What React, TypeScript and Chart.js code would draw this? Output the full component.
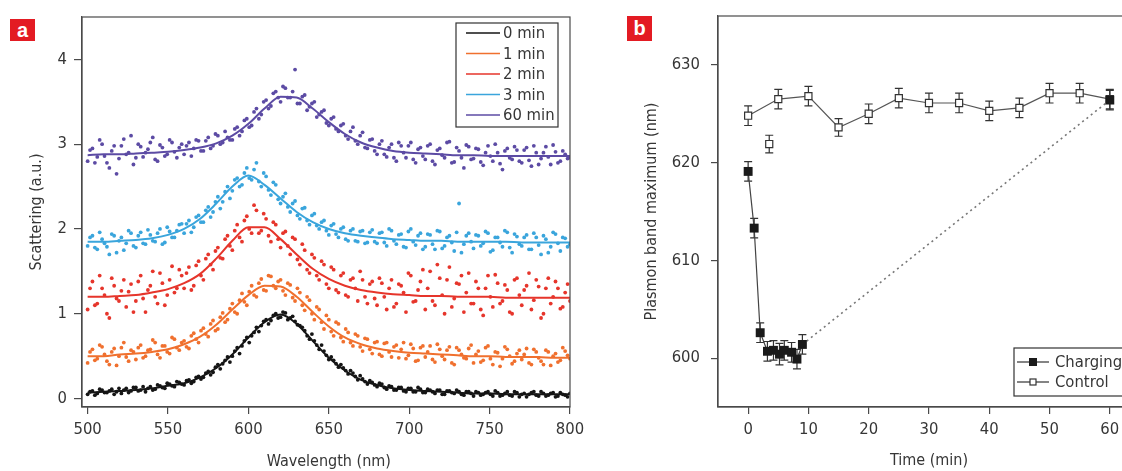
import React, { useEffect, useRef } from 'react';
import { Chart, registerables } from 'chart.js';

Chart.register(...registerables);

const FONT = "'DejaVu Sans Condensed', 'Liberation Sans Narrow', 'Arial Narrow', sans-serif";
const TEXT = '#363636';
const AXIS = '#4a4a4a';

// ---------- Panel a: scattering spectra ----------
const WAVELENGTHS = [
  500, 503, 506, 509, 512, 515, 518, 521, 524, 527,
  530, 533, 536, 539, 542, 545, 548, 551, 554, 557,
  560, 563, 566, 569, 572, 575, 578, 581, 584, 587,
  590, 593, 596, 599, 602, 605, 608, 611, 614, 617,
  620, 623, 626, 629, 632, 635, 638, 641, 644, 647,
  650, 653, 656, 659, 662, 665, 668, 671, 674, 677,
  680, 683, 686, 689, 692, 695, 698, 701, 704, 707,
  710, 713, 716, 719, 722, 725, 728, 731, 734, 737,
  740, 743, 746, 749, 752, 755, 758, 761, 764, 767,
  770, 773, 776, 779, 782, 785, 788, 791, 794, 797,
  800,
];
const WAVELENGTHS_B = [
  501.5, 504.5, 507.5, 510.5, 513.5, 516.5, 519.5, 522.5, 525.5, 528.5,
  531.5, 534.5, 537.5, 540.5, 543.5, 546.5, 549.5, 552.5, 555.5, 558.5,
  561.5, 564.5, 567.5, 570.5, 573.5, 576.5, 579.5, 582.5, 585.5, 588.5,
  591.5, 594.5, 597.5, 600.5, 603.5, 606.5, 609.5, 612.5, 615.5, 618.5,
  621.5, 624.5, 627.5, 630.5, 633.5, 636.5, 639.5, 642.5, 645.5, 648.5,
  651.5, 654.5, 657.5, 660.5, 663.5, 666.5, 669.5, 672.5, 675.5, 678.5,
  681.5, 684.5, 687.5, 690.5, 693.5, 696.5, 699.5, 702.5, 705.5, 708.5,
  711.5, 714.5, 717.5, 720.5, 723.5, 726.5, 729.5, 732.5, 735.5, 738.5,
  741.5, 744.5, 747.5, 750.5, 753.5, 756.5, 759.5, 762.5, 765.5, 768.5,
  771.5, 774.5, 777.5, 780.5, 783.5, 786.5, 789.5, 792.5, 795.5, 798.5,
];

const SCAT_0MIN = [
  0.05, 0.09, 0.06, 0.10, 0.07, 0.11, 0.08, 0.06, 0.12, 0.09,
  0.13, 0.10, 0.08, 0.14, 0.11, 0.15, 0.12, 0.17, 0.14, 0.19,
  0.16, 0.22, 0.20, 0.26, 0.25, 0.32, 0.31, 0.40, 0.41, 0.49,
  0.50, 0.60, 0.62, 0.72, 0.74, 0.84, 0.86, 0.93, 0.92, 1.00,
  0.96, 1.01, 0.95, 0.91, 0.86, 0.80, 0.70, 0.68, 0.58, 0.56,
  0.46, 0.45, 0.37, 0.36, 0.29, 0.30, 0.22, 0.23, 0.17, 0.19,
  0.14, 0.17, 0.11, 0.14, 0.10, 0.13, 0.08, 0.12, 0.08, 0.11,
  0.07, 0.10, 0.06, 0.10, 0.05, 0.09, 0.06, 0.08, 0.04, 0.08,
  0.03, 0.07, 0.05, 0.08, 0.03, 0.07, 0.04, 0.08, 0.03, 0.07,
  0.05, 0.02, 0.07, 0.04, 0.08, 0.03, 0.06, 0.02, 0.07, 0.04,
  0.06,
];
const SCAT_0MIN_B = [
  0.08, 0.04, 0.11, 0.07, 0.09, 0.05, 0.12, 0.10, 0.07, 0.13,
  0.09, 0.14, 0.12, 0.10, 0.16, 0.13, 0.18, 0.15, 0.20, 0.17,
  0.21, 0.18, 0.25, 0.23, 0.30, 0.28, 0.37, 0.35, 0.45, 0.43,
  0.56, 0.53, 0.68, 0.66, 0.78, 0.79, 0.91, 0.88, 0.98, 0.95,
  1.02, 0.93, 0.97, 0.87, 0.84, 0.74, 0.76, 0.63, 0.63, 0.51,
  0.49, 0.41, 0.40, 0.33, 0.33, 0.26, 0.27, 0.20, 0.21, 0.16,
  0.18, 0.13, 0.15, 0.10, 0.13, 0.09, 0.12, 0.08, 0.13, 0.07,
  0.11, 0.08, 0.10, 0.05, 0.09, 0.07, 0.10, 0.05, 0.08, 0.06,
  0.08, 0.04, 0.07, 0.05, 0.09, 0.03, 0.06, 0.04, 0.08, 0.02,
  0.06, 0.05, 0.08, 0.03, 0.06, 0.04, 0.07, 0.03, 0.05, 0.02,
];
const SCAT_1MIN = [
  0.42, 0.58, 0.47, 0.61, 0.44, 0.55, 0.39, 0.60, 0.49, 0.57,
  0.46, 0.63, 0.50, 0.58, 0.66, 0.48, 0.62, 0.53, 0.70, 0.57,
  0.68, 0.59, 0.77, 0.66, 0.83, 0.73, 0.92, 0.82, 1.01, 0.93,
  1.12, 1.00, 1.24, 1.10, 1.33, 1.20, 1.41, 1.27, 1.44, 1.30,
  1.40, 1.22, 1.34, 1.15, 1.25, 1.04, 1.16, 0.93, 1.05, 0.82,
  0.93, 0.74, 0.88, 0.67, 0.78, 0.62, 0.74, 0.56, 0.70, 0.53,
  0.67, 0.50, 0.66, 0.49, 0.63, 0.58, 0.47, 0.64, 0.44, 0.60,
  0.49, 0.62, 0.43, 0.58, 0.46, 0.61, 0.40, 0.57, 0.48, 0.59,
  0.42, 0.56, 0.45, 0.62, 0.40, 0.54, 0.47, 0.58, 0.41, 0.53,
  0.46, 0.59, 0.40, 0.55, 0.44, 0.57, 0.39, 0.53, 0.45, 0.56,
  0.47,
];
const SCAT_1MIN_B = [
  0.55, 0.45, 0.63, 0.52, 0.40, 0.59, 0.50, 0.66, 0.44, 0.55,
  0.60, 0.48, 0.57, 0.69, 0.52, 0.62, 0.55, 0.72, 0.60, 0.66,
  0.61, 0.74, 0.70, 0.80, 0.76, 0.88, 0.80, 0.96, 0.90, 1.06,
  1.02, 1.16, 1.14, 1.26, 1.22, 1.36, 1.28, 1.45, 1.33, 1.38,
  1.27, 1.36, 1.19, 1.30, 1.10, 1.20, 1.00, 1.08, 0.90, 0.98,
  0.79, 0.90, 0.72, 0.82, 0.66, 0.76, 0.61, 0.71, 0.58, 0.66,
  0.52, 0.65, 0.55, 0.61, 0.48, 0.66, 0.51, 0.59, 0.45, 0.62,
  0.55, 0.46, 0.64, 0.50, 0.57, 0.42, 0.60, 0.52, 0.47, 0.63,
  0.52, 0.43, 0.60, 0.47, 0.55, 0.38, 0.61, 0.50, 0.44, 0.57,
  0.52, 0.42, 0.58, 0.48, 0.40, 0.55, 0.50, 0.43, 0.60, 0.51,
];
const SCAT_2MIN = [
  1.05, 1.38, 1.12, 1.30, 1.00, 1.42, 1.18, 1.27, 1.08, 1.35,
  1.15, 1.45, 1.02, 1.33, 1.20, 1.48, 1.10, 1.40, 1.25, 1.52,
  1.30, 1.55, 1.33, 1.62, 1.40, 1.70, 1.52, 1.78, 1.65, 1.92,
  1.75, 2.05, 1.85, 2.15, 1.95, 2.22, 1.98, 2.12, 1.85, 2.05,
  1.78, 1.97, 1.70, 1.88, 1.58, 1.75, 1.48, 1.66, 1.40, 1.58,
  1.30, 1.52, 1.25, 1.48, 1.20, 1.42, 1.15, 1.40, 1.12, 1.38,
  1.10, 1.36, 1.05, 1.40, 1.12, 1.33, 1.02, 1.45, 1.15, 1.38,
  1.05, 1.50, 1.10, 1.42, 1.00, 1.55, 1.18, 1.35, 1.02, 1.48,
  1.12, 1.30, 0.98, 1.45, 1.08, 1.36, 1.15, 1.28, 1.00, 1.42,
  1.10, 1.33, 1.05, 1.40, 0.95, 1.30, 1.12, 1.38, 1.06, 1.25,
  1.15,
];
const SCAT_2MIN_B = [
  1.30, 1.10, 1.45, 1.22, 0.95, 1.33, 1.15, 1.40, 1.26, 1.02,
  1.38, 1.18, 1.28, 1.50, 1.12, 1.36, 1.22, 1.56, 1.30, 1.45,
  1.48, 1.28, 1.57, 1.45, 1.65, 1.58, 1.74, 1.66, 1.88, 1.80,
  1.98, 1.90, 2.10, 2.00, 2.28, 1.95, 2.18, 1.92, 2.08, 1.88,
  1.95, 1.80, 1.90, 1.64, 1.82, 1.52, 1.70, 1.45, 1.62, 1.35,
  1.55, 1.28, 1.45, 1.22, 1.40, 1.30, 1.50, 1.20, 1.35, 1.18,
  1.42, 1.20, 1.30, 1.08, 1.35, 1.25, 1.48, 1.14, 1.28, 1.52,
  1.30, 1.15, 1.58, 1.22, 1.40, 1.08, 1.36, 1.45, 1.25, 1.12,
  1.38, 1.05, 1.30, 1.20, 1.46, 1.12, 1.34, 1.02, 1.40, 1.22,
  1.28, 1.48, 1.16, 1.32, 1.00, 1.42, 1.20, 1.30, 1.08, 1.35,
];
const SCAT_3MIN = [
  1.80, 1.92, 1.76, 1.88, 1.79, 1.94, 1.72, 1.90, 1.83, 1.95,
  1.78, 1.96, 1.82, 1.93, 1.85, 2.00, 1.84, 1.97, 1.90, 2.05,
  1.95, 2.10, 2.02, 2.16, 2.08, 2.26, 2.20, 2.38, 2.32, 2.50,
  2.45, 2.60, 2.52, 2.72, 2.58, 2.78, 2.50, 2.62, 2.40, 2.52,
  2.30, 2.42, 2.20, 2.33, 2.12, 2.25, 2.05, 2.18, 2.00, 2.10,
  1.93, 2.06, 1.90, 2.02, 1.86, 2.00, 1.85, 1.98, 1.84, 1.99,
  1.83, 1.96, 1.80, 1.98, 1.82, 1.94, 1.78, 2.00, 1.81, 1.95,
  1.79, 1.93, 1.76, 1.97, 1.80, 1.92, 1.74, 2.30, 1.82, 1.95,
  1.77, 1.92, 1.83, 1.95, 1.75, 1.90, 1.79, 1.96, 1.72, 1.91,
  1.80, 1.93, 1.76, 1.90, 1.70, 1.88, 1.79, 1.94, 1.74, 1.89,
  1.82,
];
const SCAT_3MIN_B = [
  1.90, 1.78, 1.96, 1.83, 1.70, 1.92, 1.86, 1.75, 1.98, 1.80,
  1.92, 1.83, 1.99, 1.86, 1.95, 1.82, 2.02, 1.90, 1.98, 2.06,
  2.06, 1.96, 2.14, 2.08, 2.22, 2.14, 2.32, 2.24, 2.44, 2.36,
  2.58, 2.50, 2.66, 2.60, 2.70, 2.56, 2.66, 2.46, 2.55, 2.35,
  2.38, 2.26, 2.30, 2.16, 2.24, 2.10, 2.16, 2.04, 2.08, 1.98,
  2.04, 1.94, 2.00, 1.88, 1.98, 1.86, 1.97, 1.83, 1.96, 1.85,
  1.95, 1.84, 2.00, 1.86, 1.93, 1.79, 1.97, 1.85, 1.92, 1.76,
  1.94, 1.82, 1.98, 1.77, 1.90, 1.84, 1.96, 1.72, 1.92, 1.85,
  1.93, 1.80, 1.97, 1.73, 1.90, 1.84, 1.98, 1.78, 1.94, 1.82,
  1.90, 1.76, 1.95, 1.81, 1.92, 1.72, 1.96, 1.83, 1.90, 1.79,
];
const SCAT_60MIN = [
  2.80, 2.95, 2.85, 3.00, 2.78, 2.92, 2.65, 2.98, 2.88, 3.10,
  2.84, 2.97, 2.90, 3.02, 2.82, 2.99, 2.86, 3.05, 2.91, 2.96,
  2.88, 3.02, 2.95, 3.04, 2.92, 3.08, 2.98, 3.10, 3.02, 3.08,
  3.05, 3.20, 3.15, 3.30, 3.22, 3.42, 3.35, 3.52, 3.45, 3.62,
  3.50, 3.66, 3.55, 3.88, 3.48, 3.58, 3.44, 3.50, 3.35, 3.40,
  3.22, 3.32, 3.15, 3.24, 3.06, 3.20, 3.00, 3.14, 2.95, 3.06,
  2.88, 3.04, 2.85, 3.00, 2.80, 2.98, 2.84, 3.02, 2.78, 2.96,
  2.82, 3.00, 2.76, 2.95, 2.84, 3.03, 2.79, 2.92, 2.72, 2.97,
  2.83, 2.94, 2.75, 2.98, 2.80, 2.90, 2.70, 2.95, 2.82, 2.93,
  2.78, 2.96, 2.74, 2.90, 2.83, 2.97, 2.76, 2.91, 2.80, 2.88,
  2.84,
];
const SCAT_60MIN_B = [
  2.93, 2.78, 3.05, 2.86, 2.72, 2.98, 2.83, 3.06, 2.90, 2.76,
  3.00, 2.85, 2.94, 3.08, 2.80, 2.96, 2.88, 3.02, 2.84, 3.00,
  2.98, 2.86, 3.05, 2.92, 3.04, 2.95, 3.12, 3.00, 3.15, 3.05,
  3.18, 3.10, 3.28, 3.20, 3.38, 3.30, 3.50, 3.42, 3.60, 3.55,
  3.68, 3.55, 3.62, 3.48, 3.56, 3.40, 3.48, 3.32, 3.38, 3.25,
  3.30, 3.18, 3.22, 3.10, 3.15, 3.04, 3.10, 2.96, 3.05, 2.92,
  3.00, 2.88, 2.96, 2.84, 3.02, 2.90, 2.98, 2.82, 2.94, 2.86,
  2.98, 2.80, 2.93, 2.87, 3.02, 2.78, 2.96, 2.84, 2.99, 2.82,
  2.95, 2.79, 2.90, 2.86, 3.00, 2.77, 2.92, 2.84, 2.97, 2.80,
  2.93, 2.81, 2.98, 2.76, 2.90, 2.85, 2.99, 2.78, 2.92, 2.83,
];

const FIT_WAVELENGTHS = [
  500, 510, 520, 530, 540, 550, 560, 570, 580, 590,
  600, 610, 620, 630, 640, 650, 660, 670, 680, 690,
  700, 710, 720, 730, 740, 750, 760, 770, 780, 790,
  800,
];
const FIT_0MIN = [
  0.07, 0.08, 0.09, 0.10, 0.12, 0.15, 0.18, 0.25, 0.36, 0.52,
  0.72, 0.90, 0.99, 0.88, 0.68, 0.48, 0.33, 0.22, 0.16, 0.12,
  0.10, 0.09, 0.08, 0.07, 0.06, 0.06, 0.05, 0.05, 0.05, 0.05,
  0.05,
];
const FIT_1MIN = [
  0.50, 0.50, 0.52, 0.53, 0.55, 0.58, 0.64, 0.73, 0.87, 1.05,
  1.22, 1.33, 1.32, 1.20, 1.02, 0.85, 0.72, 0.64, 0.59, 0.56,
  0.54, 0.53, 0.52, 0.51, 0.50, 0.50, 0.49, 0.49, 0.49, 0.48,
  0.48,
];
const FIT_2MIN = [
  1.20, 1.20, 1.21, 1.22, 1.25, 1.29, 1.36, 1.47, 1.65, 1.86,
  2.02, 2.02, 1.88, 1.70, 1.53, 1.41, 1.33, 1.28, 1.25, 1.23,
  1.22, 1.21, 1.21, 1.20, 1.20, 1.20, 1.19, 1.19, 1.19, 1.19,
  1.19,
];
const FIT_3MIN = [
  1.85, 1.85, 1.86, 1.87, 1.89, 1.93, 2.00, 2.12, 2.30, 2.50,
  2.63, 2.52, 2.36, 2.20, 2.08, 2.00, 1.95, 1.92, 1.90, 1.88,
  1.87, 1.86, 1.86, 1.85, 1.85, 1.85, 1.85, 1.84, 1.84, 1.84,
  1.84,
];
const FIT_60MIN = [
  2.87, 2.88, 2.88, 2.89, 2.90, 2.91, 2.93, 2.96, 3.01, 3.10,
  3.24, 3.42, 3.56, 3.55, 3.42, 3.26, 3.12, 3.02, 2.96, 2.92,
  2.90, 2.89, 2.88, 2.87, 2.87, 2.86, 2.86, 2.86, 2.86, 2.86,
  2.86,
];

const SERIES_LABELS = ['0 min', '1 min', '2 min', '3 min', '60 min'];
const SERIES_COLORS = ['#151515', '#f0702e', '#e6352b', '#3aa5dc', '#5c4ba4'];
const SCATTER_SERIES = [SCAT_0MIN, SCAT_1MIN, SCAT_2MIN, SCAT_3MIN, SCAT_60MIN];
const SCATTER_SERIES_B = [SCAT_0MIN_B, SCAT_1MIN_B, SCAT_2MIN_B, SCAT_3MIN_B, SCAT_60MIN_B];
const FIT_SERIES = [FIT_0MIN, FIT_1MIN, FIT_2MIN, FIT_3MIN, FIT_60MIN];
const WAVE_TICKS = [500, 550, 600, 650, 700, 750, 800];
const SCATTER_TICKS = [0, 1, 2, 3, 4];

// ---------- Panel b: plasmon band maximum ----------
const CHARGING_TIME = [0, 1, 2, 3.2, 4.2, 5.2, 6, 7.2, 8.1, 9, 60];
const CHARGING = [619.1, 613.3, 602.6, 600.7, 600.8, 600.4, 600.8, 600.6, 599.9, 601.4, 626.4];
const CHARGING_ERR = [1.0, 1.0, 1.0, 1.0, 1.0, 1.1, 1.0, 1.0, 1.0, 1.0, 1.0];
const CONTROL_TIME = [0, 5, 10, 15, 20, 25, 30, 35, 40, 45, 50, 55, 60];
const CONTROL = [624.8, 626.5, 626.8, 623.6, 625.0, 626.6, 626.1, 626.1, 625.3, 625.6, 627.1, 627.1, 626.5];
const CONTROL_ERR = [1.0, 1.0, 1.0, 0.9, 1.0, 1.0, 1.0, 1.0, 1.0, 1.0, 1.0, 1.0, 1.0];
const CONTROL_EXTRA_TIME = [3.5];
const CONTROL_EXTRA = [621.9];
const CONTROL_EXTRA_ERR = [0.9];
const LEGEND_B = ['Charging', 'Control'];
const TIME_TICKS = [0, 10, 20, 30, 40, 50, 60];
const BAND_TICKS = [600, 610, 620, 630];

const axisTitles = (xText: string, xCenter: number, xY: number, yText: string, yX: number) => ({
  id: 'axisTitles',
  afterDraw(chart: any) {
    const { ctx, chartArea, scales } = chart;
    ctx.save();
    ctx.fillStyle = TEXT;
    ctx.font = `16px ${FONT}`;
    ctx.textAlign = 'center';
    ctx.textBaseline = 'middle';
    ctx.fillText(xText, scales.x.getPixelForValue(xCenter), xY);
    ctx.translate(yX, (chartArea.top + chartArea.bottom) / 2);
    ctx.rotate(-Math.PI / 2);
    ctx.fillText(yText, 0, 0);
    ctx.restore();
  },
});

const framePlugin = {
  id: 'frame',
  afterDraw(chart: any) {
    const { ctx, chartArea } = chart;
    ctx.save();
    ctx.strokeStyle = AXIS;
    ctx.lineWidth = 1.2;
    ctx.strokeRect(chartArea.left, chartArea.top, chartArea.right - chartArea.left, chartArea.bottom - chartArea.top);
    ctx.restore();
  },
};

const legendA = {
  id: 'legendA',
  afterDraw(chart: any) {
    const { ctx } = chart;
    ctx.save();
    ctx.fillStyle = '#fff';
    ctx.fillRect(456, 23, 102, 104);
    ctx.strokeStyle = '#333';
    ctx.lineWidth = 1.2;
    ctx.strokeRect(456, 23, 102, 104);
    ctx.font = `16.5px ${FONT}`;
    ctx.textBaseline = 'middle';
    ctx.textAlign = 'left';
    SERIES_LABELS.forEach((lab, i) => {
      const y = 33 + i * 20.5;
      ctx.strokeStyle = SERIES_COLORS[i];
      ctx.lineWidth = 1.6;
      ctx.beginPath();
      ctx.moveTo(466, y);
      ctx.lineTo(500, y);
      ctx.stroke();
      ctx.fillStyle = TEXT;
      ctx.fillText(lab, 503, y + 1);
    });
    ctx.restore();
  },
};

const errorBars = {
  id: 'errorBars',
  beforeDatasetsDraw(chart: any) {
    const { ctx } = chart;
    const ys = chart.scales.y;
    const sets: [number, number[], number[]][] = [
      [0, CHARGING, CHARGING_ERR],
      [1, CONTROL, CONTROL_ERR],
      [2, CONTROL_EXTRA, CONTROL_EXTRA_ERR],
    ];
    ctx.save();
    ctx.strokeStyle = '#333';
    ctx.lineWidth = 1.2;
    sets.forEach(([idx, vals, errs]) => {
      const meta = chart.getDatasetMeta(idx);
      meta.data.forEach((pt: any, j: number) => {
        const y1 = ys.getPixelForValue(vals[j] + errs[j]);
        const y2 = ys.getPixelForValue(vals[j] - errs[j]);
        ctx.beginPath();
        ctx.moveTo(pt.x, y1);
        ctx.lineTo(pt.x, y2);
        ctx.moveTo(pt.x - 4, y1);
        ctx.lineTo(pt.x + 4, y1);
        ctx.moveTo(pt.x - 4, y2);
        ctx.lineTo(pt.x + 4, y2);
        ctx.stroke();
      });
    });
    ctx.restore();
  },
};

const legendB = {
  id: 'legendB',
  afterDraw(chart: any) {
    const { ctx } = chart;
    ctx.save();
    ctx.fillStyle = '#fff';
    ctx.fillRect(414, 348, 160, 48);
    ctx.strokeStyle = '#333';
    ctx.lineWidth = 1.2;
    ctx.strokeRect(414, 348, 160, 48);
    ctx.font = `16.5px ${FONT}`;
    ctx.textBaseline = 'middle';
    ctx.textAlign = 'left';
    LEGEND_B.forEach((lab, i) => {
      const y = 362 + i * 20;
      ctx.strokeStyle = '#333';
      ctx.lineWidth = 1.2;
      ctx.beginPath();
      ctx.moveTo(417, y);
      ctx.lineTo(449, y);
      ctx.stroke();
      if (i === 0) {
        ctx.fillStyle = '#1a1a1a';
        ctx.fillRect(429, y - 4, 8, 8);
      } else {
        ctx.fillStyle = '#fff';
        ctx.fillRect(430, y - 3, 6, 6);
        ctx.strokeRect(430, y - 3, 6, 6);
      }
      ctx.fillStyle = TEXT;
      ctx.fillText(lab, 455, y + 1);
    });
    ctx.restore();
  },
};

const tickFont = { family: FONT, size: 16.5 };
const noPad = (s: any) => {
  s.paddingTop = 0;
  s.paddingBottom = 0;
  s.paddingLeft = 0;
  s.paddingRight = 0;
};

export default function App() {
  const aRef = useRef<HTMLCanvasElement>(null);
  const bRef = useRef<HTMLCanvasElement>(null);

  useEffect(() => {
    const datasetsA: any[] = [];
    FIT_SERIES.forEach((fit, i) => {
      datasetsA.push({
        label: SERIES_LABELS[i] + ' fit',
        data: FIT_WAVELENGTHS.map((x, j) => ({ x, y: fit[j] })),
        showLine: true,
        borderColor: SERIES_COLORS[i],
        borderWidth: 2,
        pointRadius: 0,
        cubicInterpolationMode: 'monotone',
        order: 0,
      });
    });
    const addScatter = (xs: number[], series: number[][]) => {
      series.forEach((s, i) => {
        datasetsA.push({
          label: SERIES_LABELS[i],
          data: xs.map((x, j) => ({ x, y: s[j] })),
          showLine: false,
          pointRadius: 1.9,
          pointBorderWidth: 0,
          pointBackgroundColor: SERIES_COLORS[i],
          backgroundColor: SERIES_COLORS[i],
          order: 1,
        });
      });
    };
    addScatter(WAVELENGTHS, SCATTER_SERIES);
    addScatter(WAVELENGTHS_B, SCATTER_SERIES_B);

    const chartA = new Chart(aRef.current as HTMLCanvasElement, {
      type: 'scatter',
      data: { datasets: datasetsA },
      options: {
        responsive: false,
        animation: false,
        events: [],
        devicePixelRatio: 1,
        layout: { padding: { left: 0, right: 30, top: 17, bottom: 0 } },
        plugins: { legend: { display: false }, tooltip: { enabled: false } },
        scales: {
          x: {
            type: 'linear',
            min: 496.5,
            max: 800,
            afterBuildTicks: (s: any) => { s.ticks = WAVE_TICKS.map((v) => ({ value: v })); },
            afterFit: (s: any) => { s.height = 64; noPad(s); },
            grid: { drawOnChartArea: false, drawTicks: true, tickLength: 7, color: AXIS, lineWidth: 1.2 },
            border: { display: true, color: AXIS, width: 1.2 },
            ticks: { font: tickFont, color: TEXT, padding: 6, maxRotation: 0 },
          },
          y: {
            type: 'linear',
            min: -0.1,
            max: 4.5,
            afterBuildTicks: (s: any) => { s.ticks = SCATTER_TICKS.map((v) => ({ value: v })); },
            afterFit: (s: any) => { s.width = 82; noPad(s); },
            grid: { drawOnChartArea: false, drawTicks: true, tickLength: 8, color: AXIS, lineWidth: 1.2 },
            border: { display: true, color: AXIS, width: 1.2 },
            ticks: { font: tickFont, color: TEXT, padding: 7 },
          },
        },
      } as any,
      plugins: [framePlugin, legendA, axisTitles('Wavelength (nm)', 650, 462, 'Scattering (a.u.)', 37)],
    });

    const lastSeg = CHARGING.length - 1;
    const chartB = new Chart(bRef.current as HTMLCanvasElement, {
      type: 'scatter',
      data: {
        datasets: [
          {
            label: LEGEND_B[0],
            data: CHARGING_TIME.map((x, j) => ({ x, y: CHARGING[j] })),
            showLine: true,
            borderColor: '#444',
            borderWidth: 1.2,
            pointStyle: 'rect',
            pointRadius: 6.3,
            pointBackgroundColor: '#1a1a1a',
            pointBorderColor: '#1a1a1a',
            pointBorderWidth: 0,
            segment: {
              borderDash: (c: any) => (c.p1DataIndex === lastSeg ? [2, 3.5] : undefined),
              borderColor: (c: any) => (c.p1DataIndex === lastSeg ? '#777' : undefined),
              borderWidth: (c: any) => (c.p1DataIndex === lastSeg ? 1.6 : undefined),
            },
            order: 0,
          },
          {
            label: LEGEND_B[1],
            data: CONTROL_TIME.map((x, j) => ({ x, y: CONTROL[j] })),
            showLine: true,
            borderColor: '#555',
            borderWidth: 1.2,
            pointStyle: 'rect',
            pointRadius: 5,
            pointBackgroundColor: '#fff',
            pointBorderColor: '#333',
            pointBorderWidth: 1.2,
            order: 1,
          },
          {
            label: LEGEND_B[1] + ' extra',
            data: CONTROL_EXTRA_TIME.map((x, j) => ({ x, y: CONTROL_EXTRA[j] })),
            showLine: false,
            pointStyle: 'rect',
            pointRadius: 5,
            pointBackgroundColor: '#fff',
            pointBorderColor: '#333',
            pointBorderWidth: 1.2,
            order: 1,
          },
        ],
      },
      options: {
        responsive: false,
        animation: false,
        events: [],
        devicePixelRatio: 1,
        layout: { padding: { left: 0, right: 8, top: 16, bottom: 0 } },
        plugins: { legend: { display: false }, tooltip: { enabled: false } },
        scales: {
          x: {
            type: 'linear',
            min: -5,
            max: 67,
            afterBuildTicks: (s: any) => { s.ticks = TIME_TICKS.map((v) => ({ value: v })); },
            afterFit: (s: any) => { s.height = 64; noPad(s); },
            grid: { drawOnChartArea: false, drawTicks: true, tickLength: 7, color: AXIS, lineWidth: 1.2 },
            border: { display: true, color: AXIS, width: 1.2 },
            ticks: { font: tickFont, color: TEXT, padding: 6, maxRotation: 0 },
          },
          y: {
            type: 'linear',
            min: 595,
            max: 635,
            afterBuildTicks: (s: any) => { s.ticks = BAND_TICKS.map((v) => ({ value: v })); },
            afterFit: (s: any) => { s.width = 118; noPad(s); },
            grid: { drawOnChartArea: false, drawTicks: true, tickLength: 7, color: AXIS, lineWidth: 1.2 },
            border: { display: true, color: AXIS, width: 1.2 },
            ticks: { font: tickFont, color: TEXT, padding: 11 },
          },
        },
      } as any,
      plugins: [errorBars, framePlugin, legendB, axisTitles('Time (min)', 30, 461, 'Plasmon band maximum (nm)', 52)],
    });

    return () => {
      chartA.destroy();
      chartB.destroy();
    };
  }, []);

  const badge = (left: number, top: number, h: number): React.CSSProperties => ({
    position: 'absolute',
    left,
    top,
    width: 25,
    height: h,
    background: '#e31b23',
    color: '#fff',
    fontFamily: "'Liberation Sans', Arial, sans-serif",
    fontWeight: 'bold',
    fontSize: 20,
    lineHeight: `${h}px`,
    textAlign: 'center',
  });

  return (
    <div style={{ position: 'absolute', left: 0, top: 0, width: 1122, height: 471, overflow: 'hidden', background: '#fff' }}>
      <canvas ref={aRef} width={600} height={471} style={{ position: 'absolute', left: 0, top: 0, width: 600, height: 471 }} />
      <canvas ref={bRef} width={560} height={471} style={{ position: 'absolute', left: 600, top: 0, width: 560, height: 471 }} />
      <div style={badge(10, 19, 22)}>a</div>
      <div style={badge(627, 16, 25)}>b</div>
    </div>
  );
}
